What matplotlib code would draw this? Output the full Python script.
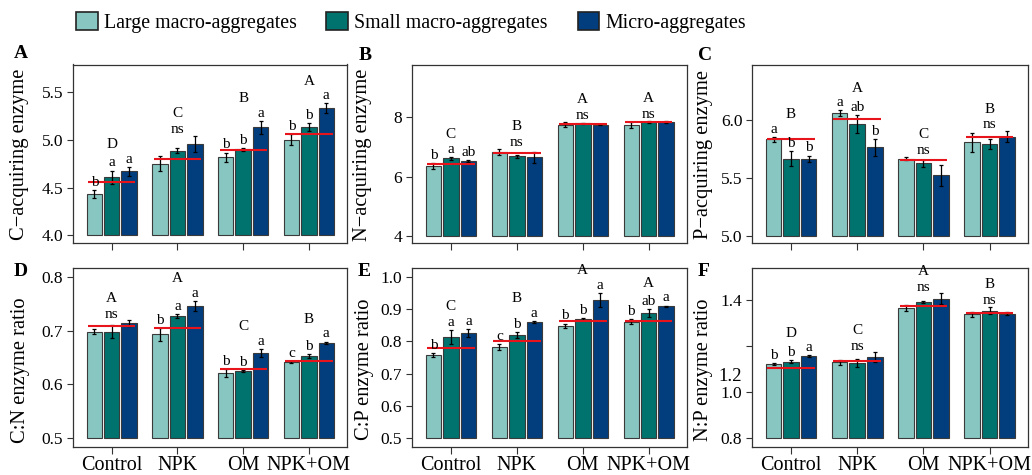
import matplotlib
matplotlib.use("Agg")
import matplotlib.pyplot as plt
from matplotlib.patches import Patch
import numpy as np

plt.rcParams['font.family'] = ['Liberation Serif', 'DejaVu Serif']

groups = ["Control", "NPK", "OM", "NPK+OM"]
fractions = ["Large macro-aggregates", "Small macro-aggregates", "Micro-aggregates"]

# ---- Panel A: C-acquiring enzyme
A_large = [4.434, 4.75, 4.82, 5.004]
A_small = [4.61, 4.889, 4.90, 5.137]
A_micro = [4.67, 4.96, 5.13, 5.33]
A_large_se = [0.038, 0.079, 0.047, 0.054]
A_small_se = [0.068, 0.021, 0.014, 0.042]
A_micro_se = [0.047, 0.084, 0.068, 0.052]
A_bulk = [4.56, 4.805, 4.895, 5.057]
A_group = ["D", "C", "B", "A"]
A_sub = ["b a a", "ns", "b b a", "b b a"]

# ---- Panel B: N-acquiring enzyme
B_large = [6.355, 6.84, 7.75, 7.75]
B_small = [6.615, 6.69, 7.80, 7.84]
B_micro = [6.535, 6.65, 7.75, 7.84]
B_large_se = [0.11, 0.10, 0.09, 0.095]
B_small_se = [0.04, 0.05, 0.02, 0.03]
B_micro_se = [0.03, 0.19, 0.02, 0.03]
B_bulk = [6.43, 6.80, 7.77, 7.84]
B_group = ["C", "B", "A", "A"]
B_sub = ["b a ab", "ns", "ns", "ns"]

# ---- Panel C: P-acquiring enzyme
C_large = [5.833, 6.058, 5.669, 5.81]
C_small = [5.669, 5.968, 5.626, 5.79]
C_micro = [5.665, 5.764, 5.524, 5.856]
C_large_se = [0.023, 0.026, 0.012, 0.082]
C_small_se = [0.066, 0.075, 0.029, 0.043]
C_micro_se = [0.029, 0.071, 0.088, 0.048]
C_bulk = [5.836, 6.009, 5.66, 5.855]
C_group = ["B", "A", "C", "B"]
C_sub = ["a b b", "a ab b", "ns", "ns"]

# ---- Panel D: C:N enzyme ratio
D_large = [0.698, 0.693, 0.621, 0.642]
D_small = [0.698, 0.727, 0.625, 0.653]
D_micro = [0.714, 0.745, 0.659, 0.677]
D_large_se = [0.005, 0.012, 0.008, 0.0015]
D_small_se = [0.012, 0.004, 0.002, 0.004]
D_micro_se = [0.005, 0.0095, 0.0074, 0.0025]
D_bulk = [0.708, 0.704, 0.629, 0.643]
D_group = ["A", "A", "C", "B"]
D_sub = ["ns", "b a a", "b b a", "c b a"]

# ---- Panel E: C:P enzyme ratio
E_large = [0.759, 0.783, 0.848, 0.861]
E_small = [0.813, 0.82, 0.87, 0.888]
E_micro = [0.826, 0.86, 0.928, 0.909]
E_large_se = [0.006, 0.009, 0.007, 0.008]
E_small_se = [0.0215, 0.008, 0.003, 0.012]
E_micro_se = [0.012, 0.003, 0.0226, 0.002]
E_bulk = [0.781, 0.80, 0.864, 0.864]
E_group = ["C", "B", "A", "A"]
E_sub = ["b a a", "c b a", "b b a", "b ab a"]

# ---- Panel F: N:P enzyme ratio
F_large = [1.1225, 1.129, 1.364, 1.338]
F_small = [1.132, 1.127, 1.391, 1.353]
F_micro = [1.157, 1.153, 1.404, 1.34]
F_large_se = [0.004, 0.01, 0.013, 0.011]
F_small_se = [0.007, 0.019, 0.003, 0.016]
F_micro_se = [0.003, 0.02, 0.024, 0.006]
F_bulk = [1.105, 1.135, 1.373, 1.343]
F_group = ["D", "C", "A", "B"]
F_sub = ["b b a", "ns", "ns", "ns"]

ylabels = ["C\u2212acquiring enzyme", "N\u2212acquiring enzyme", "P\u2212acquiring enzyme",
           "C:N enzyme ratio", "C:P enzyme ratio", "N:P enzyme ratio"]
panel_letters = ["A", "B", "C", "D", "E", "F"]
A_ticks = ["4.0", "4.5", "5.0", "5.5"]
B_ticks = ["4", "6", "8"]
C_ticks = ["5.0", "5.5", "6.0"]
D_ticks = ["0.5", "0.6", "0.7", "0.8"]
E_ticks = ["0.5", "0.6", "0.7", "0.8", "0.9", "1.0"]
F_ticks = ["0.8", "1.0", "1.2", "1.4"]
F_shown = ["0.8", "1.0", "", "1.4"]
F_extra_label = "1.2"
F_extra_pos = 1.076

colors = ["#88C6C1", "#00736E", "#023D7E"]
edge = "#3a3a3a"

panels = [
    (A_large, A_small, A_micro, A_large_se, A_small_se, A_micro_se, A_bulk, A_group, A_sub, A_ticks, A_ticks, (3.92, 5.79)),
    (B_large, B_small, B_micro, B_large_se, B_small_se, B_micro_se, B_bulk, B_group, B_sub, B_ticks, B_ticks, (3.76, 9.78)),
    (C_large, C_small, C_micro, C_large_se, C_small_se, C_micro_se, C_bulk, C_group, C_sub, C_ticks, C_ticks, (4.94, 6.48)),
    (D_large, D_small, D_micro, D_large_se, D_small_se, D_micro_se, D_bulk, D_group, D_sub, D_ticks, D_ticks, (0.485, 0.816)),
    (E_large, E_small, E_micro, E_large_se, E_small_se, E_micro_se, E_bulk, E_group, E_sub, E_ticks, E_ticks, (0.475, 1.027)),
    (F_large, F_small, F_micro, F_large_se, F_small_se, F_micro_se, F_bulk, F_group, F_sub, F_ticks, F_shown, (0.765, 1.538)),
]

W, H = 1032, 475
fig = plt.figure(figsize=(W / 100, H / 100), dpi=100)

lefts = [73, 412, 752]
widths = [274, 275, 276]
bottoms = [243, 446.5]
axh = 178.5
ylab_x = [-0.161, -0.147, -0.141, -0.157, -0.140, -0.140]
ylab_y = [0.496, 0.43]
letter_pos = [(21, 54), (365, 56), (705, 56), (21, 271), (364, 271), (704, 271)]

x = np.arange(1, len(groups) + 1)
pitch = 0.265
bw = 0.235
offs = [-pitch, 0, pitch]

for i, p in enumerate(panels):
    (lg, sm, mi, lg_se, sm_se, mi_se, bulk, glet, sub, ticks, shown, ylim) = p
    r, c = divmod(i, 3)
    ax = fig.add_axes([lefts[c] / W, (H - bottoms[r]) / H, widths[c] / W, axh / H])
    base = float(ticks[0])
    means = [lg, sm, mi]
    ses = [lg_se, sm_se, mi_se]
    for k in range(3):
        vals = np.array(means[k])
        ax.bar(x + offs[k], vals - base, bottom=base, width=bw, color=colors[k],
               edgecolor=edge, linewidth=0.8, zorder=2)
        ax.errorbar(x + offs[k], vals, yerr=ses[k], fmt='none', ecolor='black',
                    elinewidth=0.9, capsize=1.6, capthick=0.9, zorder=3)
    ax.hlines(bulk, x - 0.36, x + 0.36, colors='#E8141B', linewidth=1.5, zorder=4)

    tops = np.array(means) + np.array(ses)  # shape 3 x 4
    for g in range(len(groups)):
        gt = tops[:, g]
        if sub[g] == "ns":
            ax.annotate("ns", xy=(x[g], gt.max()), xytext=(0, 2), textcoords='offset points',
                        ha='center', va='baseline', fontsize=11, zorder=5)
        else:
            for k, lab in enumerate(sub[g].split()):
                ax.annotate(lab, xy=(x[g] + offs[k], gt[k]), xytext=(0, 3),
                            textcoords='offset points', ha='center', va='baseline',
                            fontsize=11, zorder=5)
        ax.annotate(glet[g], xy=(x[g], gt.max()), xytext=(0, 13.5),
                    textcoords='offset points', ha='center', va='baseline',
                    fontsize=11, zorder=5)

    ax.set_xlim(0.41, 4.58)
    ax.set_ylim(*ylim)
    ax.set_yticks([float(t) for t in ticks])
    ax.set_yticklabels(shown)
    ax.set_xticks(x)
    if r == 1:
        ax.set_xticklabels(groups, fontsize=14.5)
    else:
        ax.set_xticklabels([])
    for s in ax.spines.values():
        s.set_color('#333333')
        s.set_linewidth(0.9)
    ax.tick_params(axis='y', direction='out', length=4, width=0.8, pad=3,
                   labelsize=12.5, colors='#333333', labelcolor='black')
    ax.tick_params(axis='x', direction='out', length=5, width=0.8, pad=2,
                   colors='#333333', labelcolor='black')
    if i == 5:
        ax.set_yticks([F_extra_pos], minor=True)
        ax.set_yticklabels([F_extra_label], minor=True, fontsize=13.5)
        ax.tick_params(axis='y', which='minor', length=0, pad=3 + 4)
    ax.set_ylabel(ylabels[i], fontsize=14.8)
    ax.yaxis.set_label_coords(ylab_x[i], ylab_y[r])
    lx, ly = letter_pos[i]
    fig.text(lx / W, 1 - ly / H, panel_letters[i], fontsize=14, fontweight='bold',
             ha='center', va='center')

handles = [Patch(facecolor=colors[k], edgecolor='#222222', linewidth=1.2) for k in range(3)]
fig.legend(handles, fractions, loc='center', bbox_to_anchor=(411 / W, 1 - 22.5 / H),
           ncol=3, frameon=False, fontsize=14.3, handlelength=1.1, handleheight=1.05,
           handletextpad=0.3, columnspacing=1.5, borderaxespad=0, borderpad=0)

fig.savefig("out.png", dpi=100)
